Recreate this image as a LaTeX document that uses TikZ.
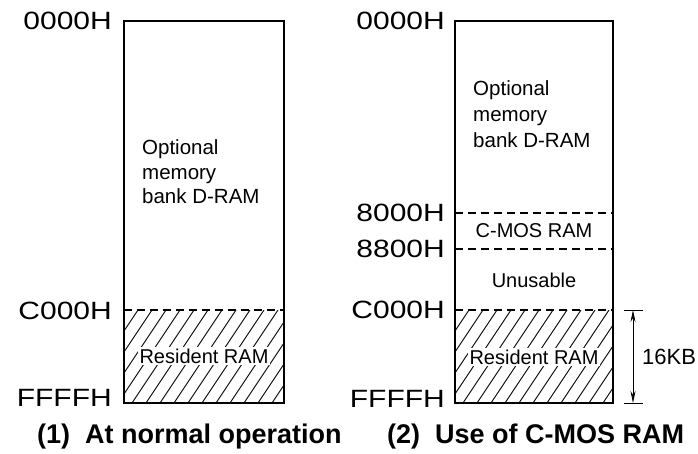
\documentclass[tikz,border=0pt]{standalone}
\usepackage{fontspec}
\setmainfont{Liberation Sans}
\newfontfamily\addrfont[FakeStretch=1.2]{Liberation Sans}
\usetikzlibrary{arrows.meta}
\begin{document}
\begin{tikzpicture}[x=1pt,y=-1pt,
  box/.style={line width=1.7pt},
  divline/.style={line width=1.1pt, dash pattern=on 8pt off 5pt},
  hatch/.style={line width=0.9pt},
  addr/.style={anchor=east, inner sep=0pt, font=\addrfont\fontsize{25}{25}\selectfont},
  body/.style={inner sep=0pt, anchor=base west, font=\fontsize{20.5}{25}\selectfont},
  inbox/.style={inner sep=1.5pt, font=\fontsize{20}{24}\selectfont},
  capt/.style={inner sep=0pt, anchor=base west, font=\bfseries\fontsize{27}{27}\selectfont},
  dim/.style={line width=0.9pt, {Stealth[length=12pt,width=5pt]}-{Stealth[length=12pt,width=5pt]}}
]
\useasboundingbox (0,0) rectangle (698,453);

% ---------- left map ----------
\coordinate (Ltl) at (124,21);
\coordinate (Lbr) at (284,403);
\coordinate (Lcl) at (124,310);
\coordinate (Lcr) at (284,310);
\begin{scope}
  \clip (124,310) rectangle (284,403);
  \foreach \i in {0,...,18} \draw[hatch] (62+\i*14,403) -- ++(62,-93);
\end{scope}
\node[inbox, fill=white] (lres) at (204,356) {Resident RAM};
\draw[box] (Ltl) rectangle (Lbr);
\draw[divline] (Lcl) -- (Lcr);
\node[body] (lopt1) at (142,154) {Optional};
\node[body] (lopt2) at (142,179) {memory};
\node[body] (lopt3) at (142,203) {bank D-RAM};

\node[addr] (la0) at (112,21) {0000H};
\node[addr] (lac) at (112,311) {C000H};
\node[addr] (laf) at (112,398) {FFFFH};
\node[capt] (cap1) at (37,443) {(1)~ At normal operation};

% ---------- right map ----------
\coordinate (Rtl) at (455,21);
\coordinate (Rbr) at (613,403);
\coordinate (R8l) at (455,213);
\coordinate (R8r) at (613,213);
\coordinate (R88l) at (455,249);
\coordinate (R88r) at (613,249);
\coordinate (Rcl) at (455,310);
\coordinate (Rcr) at (613,310);
\begin{scope}
  \clip (455,310) rectangle (613,403);
  \foreach \i in {0,...,18} \draw[hatch] (393+\i*14,403) -- ++(62,-93);
\end{scope}
\node[inbox, fill=white] (rres) at (534,357) {Resident RAM};
\draw[box] (Rtl) rectangle (Rbr);
\draw[divline] (R8l) -- (R8r);
\draw[divline] (R88l) -- (R88r);
\draw[divline] (Rcl) -- (Rcr);
\node[body] (ropt1) at (473,95) {Optional};
\node[body] (ropt2) at (473,121) {memory};
\node[body] (ropt3) at (473,147) {bank D-RAM};
\node[inbox] (rcmos) at (534,231) {C-MOS RAM};
\node[inbox] (runus) at (534,280) {Unusable};

\node[addr] (ra0) at (445,21) {0000H};
\node[addr] (ra8) at (445,213) {8000H};
\node[addr] (ra88) at (445,249) {8800H};
\node[addr] (rac) at (445,310) {C000H};
\node[addr] (raf) at (445,399) {FFFFH};
\node[capt] (cap2) at (387,443) {(2)~ Use of C-MOS RAM};

% ---------- dimension ----------
\coordinate (dt1) at (624,310);
\coordinate (dt2) at (643,310);
\coordinate (db1) at (624,403);
\coordinate (db2) at (643,403);
\coordinate (dimtop) at (633,310);
\coordinate (dimbot) at (633,403);
\draw[line width=1pt] (dt1) -- (dt2);
\draw[line width=1pt] (db1) -- (db2);
\draw[dim] (dimtop) -- (dimbot);
\node[anchor=west, inner sep=0pt, font=\fontsize{22}{22}\selectfont] (kb) at (642,357) {16KB};
\end{tikzpicture}
\end{document}
